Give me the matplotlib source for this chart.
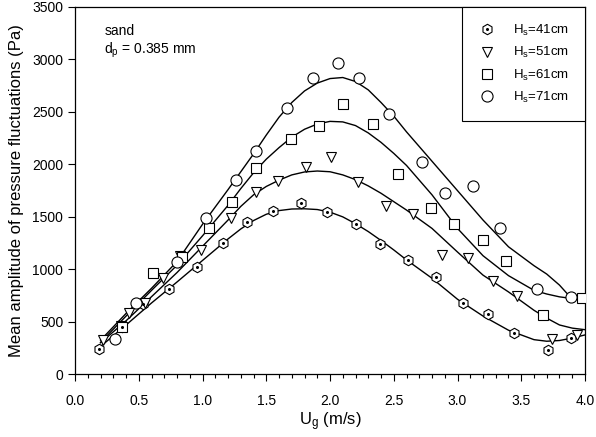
import matplotlib
matplotlib.use("Agg")
import matplotlib.pyplot as plt
from matplotlib.ticker import MultipleLocator

plt.rcParams['font.family'] = ['Liberation Sans', 'DejaVu Sans']
plt.rcParams['mathtext.fontset'] = 'custom'
plt.rcParams['mathtext.rm'] = 'Liberation Sans'
plt.rcParams['mathtext.it'] = 'Liberation Sans:italic'

# measured points, one list pair per bed height
labels = [r"H$_\mathrm{s}$=41cm", r"H$_\mathrm{s}$=51cm",
          r"H$_\mathrm{s}$=61cm", r"H$_\mathrm{s}$=71cm"]

u41 = [0.19, 0.37, 0.53, 0.74, 0.96, 1.16, 1.35, 1.55, 1.77, 1.98, 2.20, 2.39,
       2.61, 2.83, 3.04, 3.24, 3.44, 3.71, 3.89]
p41 = [240, 450, 670, 812, 1025, 1255, 1447, 1552, 1628, 1549, 1428, 1238,
       1087, 930, 676, 574, 396, 228, 343]

u51 = [0.22, 0.36, 0.42, 0.55, 0.69, 0.82, 0.99, 1.22, 1.42, 1.59, 1.81, 2.01,
       2.22, 2.44, 2.65, 2.88, 3.08, 3.28, 3.47, 3.74, 3.94]
p51 = [327, 460, 587, 676, 914, 1127, 1187, 1486, 1739, 1844, 1977, 2072,
       1834, 1606, 1526, 1136, 1105, 892, 746, 336, 370]

u61 = [0.37, 0.61, 0.84, 1.05, 1.23, 1.42, 1.69, 1.91, 2.10, 2.34, 2.53, 2.79,
       2.97, 3.20, 3.38, 3.67, 3.98]
p61 = [450, 968, 1122, 1390, 1644, 1970, 2238, 2365, 2571, 2381, 1908, 1581,
       1428, 1279, 1079, 565, 727]

u71 = [0.31, 0.48, 0.80, 1.03, 1.26, 1.42, 1.66, 1.87, 2.065, 2.23, 2.46, 2.72,
       2.90, 3.12, 3.33, 3.62, 3.89]
p71 = [333, 680, 1072, 1491, 1850, 2132, 2533, 2825, 2962, 2820, 2476, 2020,
       1730, 1797, 1390, 812, 732]

# fitted curves
fit_u = [0.2, 0.4, 0.6, 0.8, 1.0, 1.2, 1.3, 1.4, 1.5, 1.6, 1.7, 1.8, 1.9, 2.0, 2.1,
         2.2, 2.3, 2.4, 2.5, 2.6, 2.8, 3.0, 3.2, 3.4, 3.6, 3.7, 3.8, 3.9, 4.0]
fit41 = [265, 470, 680, 880, 1085, 1290, 1385, 1465, 1525, 1560, 1575, 1577, 1570,
         1545, 1500, 1435, 1360, 1275, 1185, 1090, 915, 715, 555, 420, 330, 315,
         322, 345, 375]
fit51 = [300, 510, 740, 970, 1220, 1470, 1600, 1710, 1790, 1850, 1900, 1928, 1937,
         1930, 1900, 1855, 1795, 1725, 1645, 1565, 1390, 1165, 945, 785, 610, 535,
         470, 440, 425]
fit61 = [305, 555, 800, 1040, 1320, 1610, 1770, 1920, 2050, 2160, 2260, 2335, 2385,
         2410, 2405, 2370, 2300, 2210, 2105, 1990, 1710, 1390, 1130, 940, 800, 765,
         738, 722, 715]
fit71_u = fit_u[:-1]
fit71 = [325, 580, 820, 1075, 1430, 1760, 1930, 2100, 2280, 2450, 2590, 2700, 2775,
         2818, 2828, 2790, 2710, 2590, 2460, 2310, 2030, 1750, 1470, 1215, 1035,
         955, 850, 715]

fig, ax = plt.subplots(figsize=(5.96, 4.37), dpi=100)
fig.subplots_adjust(left=0.126, right=0.9815, bottom=0.1435, top=0.984)

mk = dict(linestyle='none', mfc='white', mec='black', mew=0.8, zorder=3)

ax.plot(fit_u, fit41, color='black', lw=1.0)
ax.plot(fit_u, fit51, color='black', lw=1.0)
ax.plot(fit_u, fit61, color='black', lw=1.0)
ax.plot(fit71_u, fit71, color='black', lw=1.0)

h41, = ax.plot(u41, p41, marker='h', ms=7.5, **mk)
d41, = ax.plot(u41, p41, marker='o', ms=1.2, linestyle='none', color='black', zorder=4)
h51, = ax.plot(u51, p51, marker='v', ms=7.5, **mk)
h61, = ax.plot(u61, p61, marker='s', ms=6.5, **mk)
h71, = ax.plot(u71, p71, marker='o', ms=8, **mk)

leg = ax.legend([(h41, d41), h51, h61, h71], labels, loc='upper right',
                borderaxespad=0, fancybox=False, edgecolor='black', framealpha=1,
                fontsize=9.5, handlelength=1.5, handletextpad=1.2, borderpad=1.2,
                labelspacing=0.55)
leg.get_frame().set_linewidth(0.8)

ax.text(0.23, 3230, "sand", fontsize=10)
ax.text(0.23, 3060, r"d$_\mathrm{p}$ = 0.385 mm", fontsize=10)

ax.set_xlim(0, 4)
ax.set_ylim(0, 3500)
ax.xaxis.set_major_locator(MultipleLocator(0.5))
ax.xaxis.set_minor_locator(MultipleLocator(0.1))
ax.yaxis.set_major_locator(MultipleLocator(500))
ax.xaxis.set_major_formatter(matplotlib.ticker.FormatStrFormatter('%.1f'))
ax.tick_params(which='major', direction='out', length=5, width=0.8, labelsize=10)
ax.tick_params(which='minor', direction='out', length=3, width=0.8)
ax.tick_params(axis='x', pad=9)
ax.set_xlabel(r"U$_\mathrm{g}$ (m/s)", fontsize=12, labelpad=2)
ax.set_ylabel("Mean amplitude of pressure fluctuations (Pa)", fontsize=12, labelpad=6)

for s in ax.spines.values():
    s.set_linewidth(0.9)

fig.savefig("out.png", dpi=100)
